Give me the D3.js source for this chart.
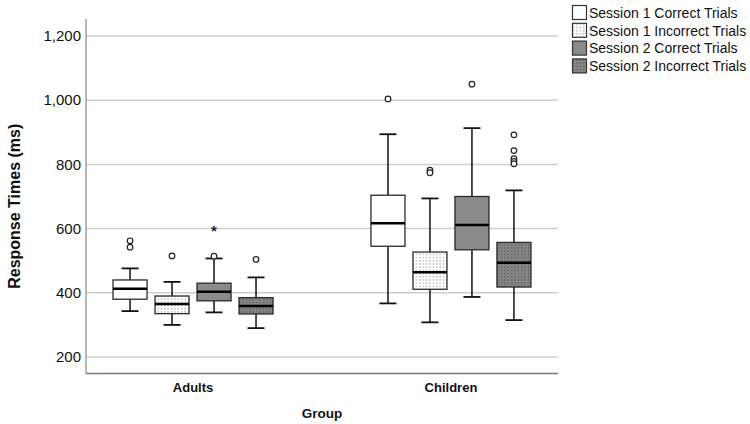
<!DOCTYPE html>
<html><head><meta charset="utf-8">
<script src="https://cdn.jsdelivr.net/npm/d3@7/dist/d3.min.js"></script>
<style>body{margin:0;background:#fff}svg{display:block}text{font-family:"Liberation Sans",Arial,sans-serif}</style>
</head><body>
<svg id="c" width="750" height="424"></svg>
<script>
const groups = ["Adults", "Children"];
const series = ["Session 1 Correct Trials", "Session 1 Incorrect Trials", "Session 2 Correct Trials", "Session 2 Incorrect Trials"];
// per group, per series: [lowWhisker, q1, median, q3, highWhisker]
const adultsStats = [[343, 380, 413, 440, 476], [300, 335, 365, 390, 434], [339, 375, 403, 430, 507], [290, 334, 359, 385, 448]];
const childrenStats = [[367, 545, 617, 704, 894], [308, 411, 464, 527, 694], [387, 534, 611, 700, 913], [315, 418, 494, 557, 719]];
const adultsOutliers = [[562, 542], [515], [514], [504]];
const childrenOutliers = [[1004], [782, 774], [1050], [892, 843, 818, 809, 802]];
const adultsExtremes = [[], [], [603], []];
const childrenExtremes = [[], [], [], []];
const yTicks = [200, 400, 600, 800, 1000, 1200];

const stats = [adultsStats, childrenStats];
const outliers = [adultsOutliers, childrenOutliers];
const extremes = [adultsExtremes, childrenExtremes];

const svg = d3.select("#c");
const L = 86, R = 558, T = 19, B = 373.5;
const y = d3.scaleLinear().domain([200, 1200]).range([357, 36]);
const x = d3.scalePoint().domain(groups).range([L, R]).padding(0.415);
const xs = d3.scaleBand().domain(series).range([-80, 80]).paddingInner(0.19).paddingOuter(0);
const bw = xs.bandwidth();

const defs = svg.append("defs");
function dots(id, bg, dot) {
  const p = defs.append("pattern").attr("id", id).attr("patternUnits", "userSpaceOnUse").attr("width", 3.4).attr("height", 3.2);
  p.append("rect").attr("width", 3.4).attr("height", 3.2).attr("fill", bg);
  p.append("rect").attr("x", 1).attr("y", 1).attr("width", 1.1).attr("height", 1.1).attr("fill", dot);
}
dots("dotsLight", "#ffffff", "#8a8a8a");
dots("dotsDark", "#858585", "#4a4a4a");
const fills = ["#ffffff", "url(#dotsLight)", "#8a8a8a", "url(#dotsDark)"];

// gridlines
svg.append("g").selectAll("line").data(yTicks).join("line")
  .attr("x1", L).attr("x2", R).attr("y1", d => y(d)).attr("y2", d => y(d))
  .attr("stroke", "#cfcfcf").attr("stroke-width", 1.5);

// axes lines
svg.append("line").attr("x1", L).attr("x2", L).attr("y1", T).attr("y2", B).attr("stroke", "#8a8a8a").attr("stroke-width", 1.2);
svg.append("line").attr("x1", L).attr("x2", R).attr("y1", B).attr("y2", B).attr("stroke", "#7a7a7a").attr("stroke-width", 1.5);

// y tick labels
svg.append("g").selectAll("text").data(yTicks).join("text")
  .attr("x", L - 5).attr("y", d => y(d)).attr("dy", "0.35em").attr("text-anchor", "end")
  .attr("font-size", 15).attr("fill", "#111").text(d3.format(","));

// x labels
svg.append("g").selectAll("text").data(groups).join("text")
  .attr("x", d => x(d)).attr("y", 392).attr("text-anchor", "middle")
  .attr("font-size", 13).attr("font-weight", "bold").attr("fill", "#111").text(d => d);

svg.append("text").attr("x", (L + R) / 2).attr("y", 418).attr("text-anchor", "middle")
  .attr("font-size", 13.5).attr("font-weight", "bold").attr("fill", "#111").text("Group");
svg.append("text").attr("transform", `translate(20,${(T + B) / 2 + 10}) rotate(-90)`).attr("text-anchor", "middle")
  .attr("font-size", 16).attr("font-weight", "bold").attr("fill", "#111").text("Response Times (ms)");

// boxes
groups.forEach((g, gi) => {
  series.forEach((s, si) => {
    const [lo, q1, med, q3, hi] = stats[gi][si];
    const cx = x(g) + xs(s) + bw / 2;
    const gg = svg.append("g");
    gg.append("line").attr("x1", cx).attr("x2", cx).attr("y1", y(hi)).attr("y2", y(q3)).attr("stroke", "#111").attr("stroke-width", 1.5);
    gg.append("line").attr("x1", cx).attr("x2", cx).attr("y1", y(q1)).attr("y2", y(lo)).attr("stroke", "#111").attr("stroke-width", 1.5);
    [hi, lo].forEach(v => gg.append("line").attr("x1", cx - bw / 4).attr("x2", cx + bw / 4).attr("y1", y(v)).attr("y2", y(v)).attr("stroke", "#111").attr("stroke-width", 1.8));
    gg.append("rect").attr("x", cx - bw / 2).attr("y", y(q3)).attr("width", bw).attr("height", y(q1) - y(q3))
      .attr("fill", fills[si]).attr("stroke", "#2a2a2a").attr("stroke-width", 1.3);
    gg.append("line").attr("x1", cx - bw / 2).attr("x2", cx + bw / 2).attr("y1", y(med)).attr("y2", y(med)).attr("stroke", "#000").attr("stroke-width", 2.5);
    gg.selectAll("circle").data(outliers[gi][si]).join("circle")
      .attr("cx", cx).attr("cy", v => y(v)).attr("r", 2.8).attr("fill", "#fff").attr("stroke", "#222").attr("stroke-width", 1.2);
    gg.selectAll("text").data(extremes[gi][si]).join("text")
      .attr("x", cx).attr("y", v => y(v)).attr("dy", "0.55em").attr("text-anchor", "middle").attr("font-size", 15).attr("font-weight", "bold").attr("fill", "#222").text("*");
  });
});

// legend
const lg = svg.append("g").attr("transform", "translate(572,5)");
series.forEach((s, i) => {
  const row = lg.append("g").attr("transform", `translate(0,${i * 17.8})`);
  row.append("rect").attr("x", 0.5).attr("y", 0.5).attr("width", 14).attr("height", 14)
    .attr("fill", fills[i]).attr("stroke", "#333").attr("stroke-width", 1.2);
  row.append("text").attr("x", 17).attr("y", 7.8).attr("dy", "0.35em").attr("font-size", 14).attr("fill", "#111").text(s);
});
</script>
</body></html>
